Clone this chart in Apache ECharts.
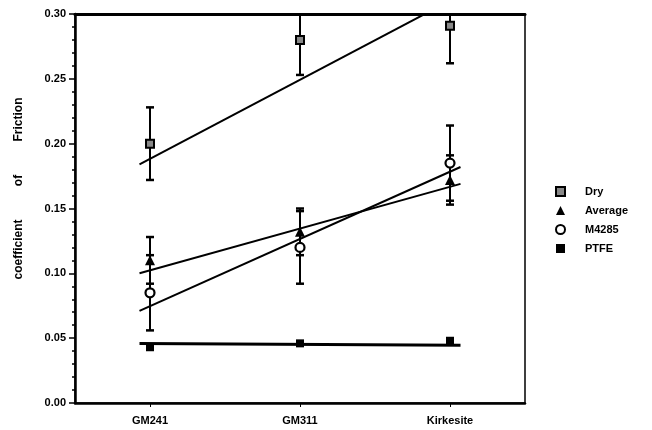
<!DOCTYPE html>
<html>
<head>
<meta charset="utf-8">
<script src="https://cdn.jsdelivr.net/npm/echarts@6/dist/echarts.min.js"></script>
<style>
  html, body { margin: 0; padding: 0; background: #fff; }
  #chart { width: 652px; height: 430px; }
</style>
</head>
<body>
<div id="chart"></div>
<script>
// Coefficient of friction by counterface material
const categories = ['GM241', 'GM311', 'Kirkesite'];
const catPos = [1, 2, 3];

const dryMean = [0.200, 0.280, 0.291];
const dryErr = [0.028, 0.027, 0.029];
const avgMean = [0.110, 0.132, 0.172];
const avgErr = [0.018, 0.018, 0.019];
const m4285Mean = [0.085, 0.120, 0.185];
const m4285Err = [0.029, 0.028, 0.029];
const ptfeMean = [0.043, 0.046, 0.048];

// Straight-line fits, start and end values over fitSpan
const fitSpan = [0.93, 3.07];
const dryFit = [0.184, 0.3145];
const avgFit = [0.100, 0.169];
const m4285Fit = [0.071, 0.182];
const ptfeFit = [0.0458, 0.0445];

const FONT = '"Liberation Sans", Arial, sans-serif';
const pts = (means) => means.map((v, i) => [catPos[i], v]);
const errRows = (means, errs) => means.map((v, i) => [catPos[i], v - errs[i], v + errs[i]]);
const fitRows = (fit) => [[fitSpan[0], fit[0]], [fitSpan[1], fit[1]]];

function errorBar(params, api) {
  const x = api.value(0);
  const lo = api.coord([x, api.value(1)]);
  const hi = api.coord([x, api.value(2)]);
  const cap = 4;
  const capStyle = { stroke: '#000', lineWidth: 2.5 };
  return {
    type: 'group',
    children: [
      { type: 'line', shape: { x1: lo[0], y1: lo[1], x2: hi[0], y2: hi[1] }, style: { stroke: '#000', lineWidth: 2 } },
      { type: 'line', shape: { x1: lo[0] - cap, y1: lo[1], x2: lo[0] + cap, y2: lo[1] }, style: capStyle },
      { type: 'line', shape: { x1: hi[0] - cap, y1: hi[1], x2: hi[0] + cap, y2: hi[1] }, style: capStyle }
    ]
  };
}

function errSeries(means, errs) {
  return {
    type: 'custom', renderItem: errorBar, data: errRows(means, errs),
    clip: true, silent: true, z: 3
  };
}

function fitSeries(fit, width) {
  return {
    type: 'line', data: fitRows(fit), symbol: 'none', clip: true, silent: true,
    lineStyle: { color: '#000', width: width }, z: 4
  };
}

const chart = echarts.init(document.getElementById('chart'), null, { renderer: 'canvas' });

chart.setOption({
  animation: false,
  backgroundColor: '#fff',
  textStyle: { fontFamily: FONT, color: '#000' },
  grid: {
    left: 75, right: 127, top: 14, bottom: 27,
    show: true, borderColor: '#000', borderWidth: 1.5, backgroundColor: 'transparent'
  },
  legend: {
    orient: 'vertical', left: 550, top: 181,
    itemWidth: 9, itemHeight: 9, itemGap: 8,
    data: ['Dry', 'Average', 'M4285', 'PTFE'],
    textStyle: { fontFamily: FONT, fontWeight: 'bold', fontSize: 11, color: '#000', padding: [0, 0, 0, 15] }
  },
  xAxis: [{
    type: 'value', min: 0.5, max: 3.5, position: 'bottom',
    axisLine: { show: true, lineStyle: { color: '#000', width: 2.5 } },
    axisTick: { show: true, inside: false, length: 4, customValues: catPos, lineStyle: { color: '#000', width: 1 } },
    axisLabel: {
      customValues: catPos, margin: 12,
      formatter: (v) => categories[Math.round(v) - 1] || '',
      fontFamily: FONT, fontWeight: 'bold', fontSize: 11, color: '#000'
    },
    splitLine: { show: false }
  }, {
    type: 'value', min: 0.5, max: 3.5, position: 'top',
    axisLine: { show: true, lineStyle: { color: '#000', width: 3 } },
    axisTick: { show: false }, axisLabel: { show: false }, splitLine: { show: false }
  }],
  yAxis: {
    type: 'value', min: 0, max: 0.30, interval: 0.05,
    name: 'coefficient          of          Friction', nameLocation: 'middle', nameGap: 50,
    nameTextStyle: { fontFamily: FONT, fontWeight: 'bold', fontSize: 12, color: '#000', padding: [0, 0, 0, 40] },
    axisLine: { show: true, lineStyle: { color: '#000', width: 2.5 } },
    axisTick: { show: true, inside: false, length: 6, lineStyle: { color: '#000', width: 1.5 } },
    minorTick: { show: true, splitNumber: 5, length: 3, lineStyle: { color: '#000', width: 1.5 } },
    axisLabel: {
      margin: 9, formatter: (v) => v.toFixed(2),
      fontFamily: FONT, fontWeight: 'bold', fontSize: 11, color: '#000'
    },
    splitLine: { show: false }
  },
  series: [
    fitSeries(dryFit, 2),
    fitSeries(avgFit, 2),
    fitSeries(m4285Fit, 2),
    fitSeries(ptfeFit, 3),
    errSeries(dryMean, dryErr),
    errSeries(avgMean, avgErr),
    errSeries(m4285Mean, m4285Err),
    {
      name: 'Dry', type: 'scatter', data: pts(dryMean), symbol: 'rect', symbolSize: 8, z: 6,
      itemStyle: { color: '#888', borderColor: '#000', borderWidth: 2, opacity: 1 }
    },
    {
      name: 'Average', type: 'scatter', data: pts(avgMean), symbol: 'triangle', symbolSize: 10, z: 6,
      itemStyle: { color: '#000', opacity: 1 }
    },
    {
      name: 'M4285', type: 'scatter', data: pts(m4285Mean), symbol: 'circle', symbolSize: 9, z: 7,
      itemStyle: { color: '#fff', borderColor: '#000', borderWidth: 2.2, opacity: 1 }
    },
    {
      name: 'PTFE', type: 'scatter', data: pts(ptfeMean), symbol: 'rect', symbolSize: 8, z: 6,
      itemStyle: { color: '#000', opacity: 1 }
    }
  ]
});
</script>
</body>
</html>
